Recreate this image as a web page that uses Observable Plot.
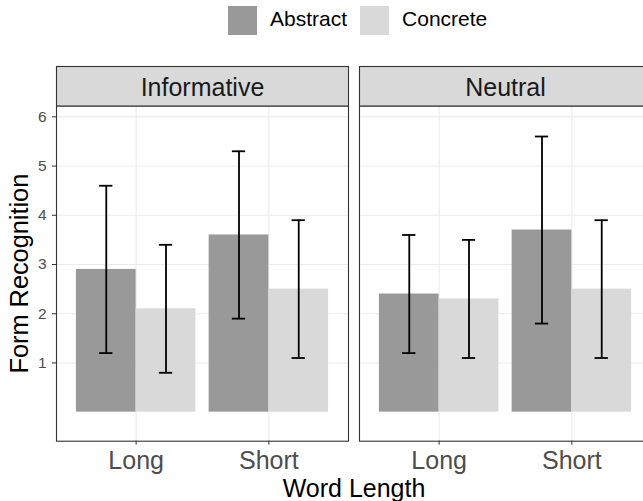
<!DOCTYPE html>
<html><head><meta charset="utf-8">
<script src="https://cdn.jsdelivr.net/npm/d3@7"></script>
<script src="https://cdn.jsdelivr.net/npm/@observablehq/plot@0.6"></script>
<style>
html,body{margin:0;padding:0;background:#fff;overflow:hidden;}
#wrap{position:relative;width:643px;height:501px;overflow:hidden;font-family:"Liberation Sans",Arial,sans-serif;background:#fff;}
#legend{position:absolute;left:228px;top:5.7px;display:flex;align-items:center;font-size:21px;color:#000;z-index:2;white-space:nowrap;}
.sw{width:29px;height:29px;}
.lab{margin:0 13px 0 13px;position:relative;top:-1.5px;}
#chart{position:absolute;left:0;top:0;width:660px;}
#chart svg{max-width:none !important;}
</style></head><body>
<div id="wrap"><div id="legend"></div><div id="chart"></div></div>
<script>
const conditions = ["Informative", "Neutral"];
const wordLengths = ["Long", "Short"];
const groups = ["Abstract", "Concrete"];
const groupColors = ["#999999", "#d9d9d9"];
// order: Informative-Long, Informative-Short, Neutral-Long, Neutral-Short
const meanAbstract = [2.9, 3.6, 2.4, 3.7];
const lowAbstract  = [1.2, 1.9, 1.2, 1.8];
const highAbstract = [4.6, 5.3, 3.6, 5.6];
const meanConcrete = [2.1, 2.5, 2.3, 2.5];
const lowConcrete  = [0.8, 1.1, 1.1, 1.1];
const highConcrete = [3.4, 3.9, 3.5, 3.9];
const yTicks = [1, 2, 3, 4, 5, 6];
const xTitle = "Word Length";
const yTitle = "Form Recognition";

const dodge = 0.225, barHalf = 0.225, capHalf = 0.05;
const rows = [];
conditions.forEach((c, ci) => {
  wordLengths.forEach((w, wi) => {
    const k = ci * wordLengths.length + wi;
    groups.forEach((g, gi) => {
      const mean = gi === 0 ? meanAbstract[k] : meanConcrete[k];
      const low = gi === 0 ? lowAbstract[k] : lowConcrete[k];
      const high = gi === 0 ? highAbstract[k] : highConcrete[k];
      const center = (wi + 1) + (gi === 0 ? -dodge : dodge);
      rows.push({condition: c, wordLength: w, group: g, mean, low, high, center});
    });
  });
});

const panelTop = 105.5, panelBottom = 440.7, H = 501, stripH = 39.5;
const font = '"Liberation Sans", Arial, sans-serif';

const chart = Plot.plot({
  width: 660, height: H,
  marginLeft: 56, marginRight: 9, marginTop: panelTop, marginBottom: H - panelBottom,
  style: {fontFamily: font, background: "white", overflow: "visible", maxWidth: "none"},
  fx: {domain: conditions, paddingInner: 11 / 303, paddingOuter: 0, round: false, axis: null, label: null},
  x: {type: "linear", domain: [0.4, 2.6]},
  y: {domain: [-0.59, 6.22]},
  color: {domain: groups, range: groupColors},
  marks: [
    Plot.ruleY(yTicks, {stroke: "#ebebeb", strokeWidth: 1.1}),
    Plot.ruleX(wordLengths.map((d, i) => i + 1), {stroke: "#ebebeb", strokeWidth: 1.1}),
    Plot.rect(rows, {fx: "condition", x1: d => d.center - barHalf, x2: d => d.center + barHalf, y1: 0, y2: "mean", fill: "group"}),
    Plot.ruleX(rows, {fx: "condition", x: "center", y1: "low", y2: "high", stroke: "black", strokeWidth: 1.8}),
    Plot.ruleY(rows, {fx: "condition", y: "high", x1: d => d.center - capHalf, x2: d => d.center + capHalf, stroke: "black", strokeWidth: 1.8}),
    Plot.ruleY(rows, {fx: "condition", y: "low", x1: d => d.center - capHalf, x2: d => d.center + capHalf, stroke: "black", strokeWidth: 1.8}),
    Plot.frame({stroke: "#333333", strokeWidth: 1.1}),
    Plot.frame({fill: "#d9d9d9", stroke: "#333333", strokeWidth: 1.1, insetTop: -stripH, insetBottom: panelBottom - panelTop}),
    Plot.text(conditions, {fx: d => d, text: d => d, frameAnchor: "top", textAnchor: "middle", dy: -10.5, lineAnchor: "bottom", fontSize: 25, fill: "#1a1a1a"}),
    Plot.axisY({ticks: yTicks, tickFormat: d => String(d), tickSize: 4, tickPadding: 6, fontSize: 15.5, color: "#4d4d4d", stroke: "#333333", label: null}),
    Plot.axisX({ticks: wordLengths.map((d, i) => i + 1), tickFormat: v => wordLengths[Math.round(v) - 1], tickSize: 4, tickPadding: 6.5, fontSize: 25, color: "#4d4d4d", stroke: "#333333", label: null}),
    Plot.text([yTitle], {fx: () => conditions[0], text: d => d, frameAnchor: "left", textAnchor: "middle", dx: -29, rotate: -90, lineAnchor: "bottom", fontSize: 25.3, fill: "black"}),
    Plot.text([xTitle], {facet: "super", text: d => d, frameAnchor: "bottom", textAnchor: "middle", dy: 56, lineAnchor: "bottom", fontSize: 25, fill: "black"})
  ]
});
document.getElementById("chart").append(chart);

const legend = document.getElementById("legend");
groups.forEach((g, i) => {
  const sw = document.createElement("div");
  sw.className = "sw";
  sw.style.background = groupColors[i];
  const lab = document.createElement("span");
  lab.className = "lab";
  lab.textContent = g;
  legend.append(sw, lab);
});
</script>
</body></html>
